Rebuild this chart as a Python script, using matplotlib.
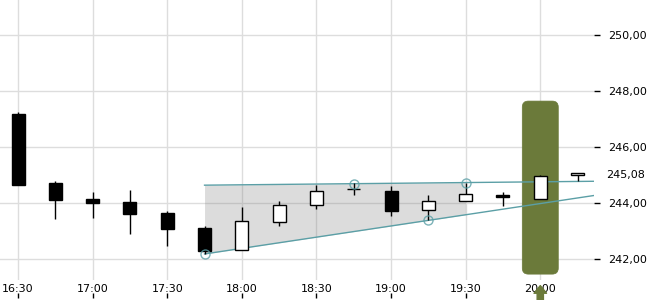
import matplotlib
matplotlib.use("Agg")
import matplotlib.pyplot as plt
from matplotlib.patches import Rectangle, FancyBboxPatch
from matplotlib.ticker import FuncFormatter
import numpy as np

# ---- data ----
times = ["16:30", "16:45", "17:00", "17:15", "17:30", "17:45", "18:00", "18:15",
         "18:30", "18:45", "19:00", "19:15", "19:30", "19:45", "20:00", "20:15"]
opens  = [247.18, 244.70, 244.14, 244.02, 243.64, 243.11, 242.31, 243.31,
          243.92, 244.49, 244.43, 243.74, 244.06, 244.29, 244.13, 244.99]
highs  = [247.25, 244.79, 244.39, 244.46, 243.70, 243.18, 243.85, 244.07,
          244.64, 244.70, 244.61, 244.30, 244.72, 244.38, 245.00, 245.08]
lows   = [244.65, 243.44, 243.48, 242.90, 242.48, 242.18, 242.31, 243.19,
          243.80, 244.28, 243.55, 243.38, 244.06, 243.90, 244.13, 244.80]
closes = [244.65, 244.12, 244.01, 243.62, 243.08, 242.30, 243.35, 243.92,
          244.42, 244.49, 243.73, 244.06, 244.31, 244.20, 244.96, 245.08]

upper_anchor_times = ["18:45", "19:30"]
upper_anchor_vals = [244.69, 244.73]
lower_anchor_times = ["17:45", "19:15"]
lower_anchor_vals = [242.18, 243.38]
channel_start = "17:45"
channel_fill_end = "19:30"

highlight_time = "20:00"
xtick_labels = ["16:30", "17:00", "17:30", "18:00", "18:30", "19:00", "19:30", "20:00"]
ytick_vals = [242, 244, 246, 248, 250]
last_price = 245.08

# ---- helpers ----
def to_min(t):
    h, m = t.split(":")
    return (int(h) - 16) * 60 + int(m)

x = np.array([to_min(t) for t in times])
o, h, l, c = map(np.array, (opens, highs, lows, closes))

xlim = (22.76, 261.6)
ylim = (241.25, 251.25)

olive = "#6b7a3a"
teal = "#5b9fa6"
grid_c = "#dddddd"

fig = plt.figure(figsize=(6.5, 3.0), dpi=100)
ax = fig.add_axes([0, 1 - 280 / 300, 594 / 650, 280 / 300])
ax.set_xlim(*xlim)
ax.set_ylim(*ylim)
for s in ax.spines.values():
    s.set_visible(False)

# grid
xt = [to_min(t) for t in xtick_labels]
ax.set_xticks(xt)
ax.set_xticklabels(xtick_labels)
ax.set_yticks(ytick_vals)
ax.grid(True, color=grid_c, linewidth=1, zorder=0)
ax.set_axisbelow(True)
ax.yaxis.tick_right()
ax.yaxis.set_major_formatter(FuncFormatter(lambda v, p: f"{v:.2f}".replace(".", ",")))
ax.tick_params(axis="y", length=4, width=1, pad=6, labelsize=8, colors="black")
ax.tick_params(axis="x", length=0, pad=3, labelsize=8)
ax.vlines(xt, -0.046, -0.064, transform=ax.get_xaxis_transform(),
          clip_on=False, color="black", lw=1)

# highlight box
hx = to_min(highlight_time)
xs_per_px = (xlim[1] - xlim[0]) / 594
ys_per_px = (ylim[1] - ylim[0]) / 280
box_w = 36 * xs_per_px
box_y0 = 241.46
box_y1 = 247.64
r = 6 * xs_per_px
hb = FancyBboxPatch((hx - box_w / 2 + r, box_y0 + r * (ys_per_px / xs_per_px)),
                    box_w - 2 * r, box_y1 - box_y0 - 2 * r * (ys_per_px / xs_per_px),
                    boxstyle=f"round,pad={r},rounding_size={r}",
                    mutation_aspect=ys_per_px / xs_per_px,
                    facecolor=olive, edgecolor=olive, lw=0.5, zorder=2)
ax.add_patch(hb)

# arrow below
ax.annotate("", xy=(hx, -0.02), xycoords=("data", "axes fraction"),
            xytext=(hx, -0.08), textcoords=("data", "axes fraction"),
            arrowprops=dict(arrowstyle="simple,head_length=0.55,head_width=0.9,tail_width=0.45",
                            color=olive, shrinkA=0, shrinkB=0, mutation_scale=10),
            annotation_clip=False, zorder=5)

# trend channel
ux = np.array([to_min(t) for t in upper_anchor_times])
lx = np.array([to_min(t) for t in lower_anchor_times])
us = (upper_anchor_vals[1] - upper_anchor_vals[0]) / (ux[1] - ux[0])
ls = (lower_anchor_vals[1] - lower_anchor_vals[0]) / (lx[1] - lx[0])
upper = lambda t: upper_anchor_vals[0] + us * (t - ux[0])
lower = lambda t: lower_anchor_vals[0] + ls * (t - lx[0])
x0 = to_min(channel_start)
xf = to_min(channel_fill_end)
xx = np.array([x0, xf])
ax.fill_between(xx, lower(xx), upper(xx), color="#808080", alpha=0.27, lw=0, zorder=1)
xe = np.array([x0, xlim[1]])
ax.plot(xe, upper(xe), color=teal, lw=1, zorder=3)
ax.plot(xe, lower(xe), color=teal, lw=1, zorder=3)
ax.plot(ux, upper_anchor_vals, "o", ms=6.5, mfc="none", mec=teal, mew=1, alpha=0.8, zorder=6)
ax.plot(lx, lower_anchor_vals, "o", ms=6.5, mfc="none", mec=teal, mew=1, alpha=0.8, zorder=6)

# candles
bw = 13 * xs_per_px
ax.vlines(x, l, h, color="black", lw=1, zorder=4)
for xi, oi, ci in zip(x, o, c):
    up = ci >= oi
    bottom = min(oi, ci)
    height = max(abs(ci - oi), 0.02)
    ax.add_patch(Rectangle((xi - bw / 2, bottom), bw, height,
                           facecolor="white" if up else "black",
                           edgecolor="black", lw=1, zorder=5))

# last price label
ax.annotate(f"{last_price:.2f}".replace(".", ","), xy=(1, last_price),
            xycoords=("axes fraction", "data"), xytext=(8.6, -1.5),
            textcoords="offset points", va="center", ha="left", fontsize=8,
            annotation_clip=False)

fig.savefig("out.png", dpi=100)
